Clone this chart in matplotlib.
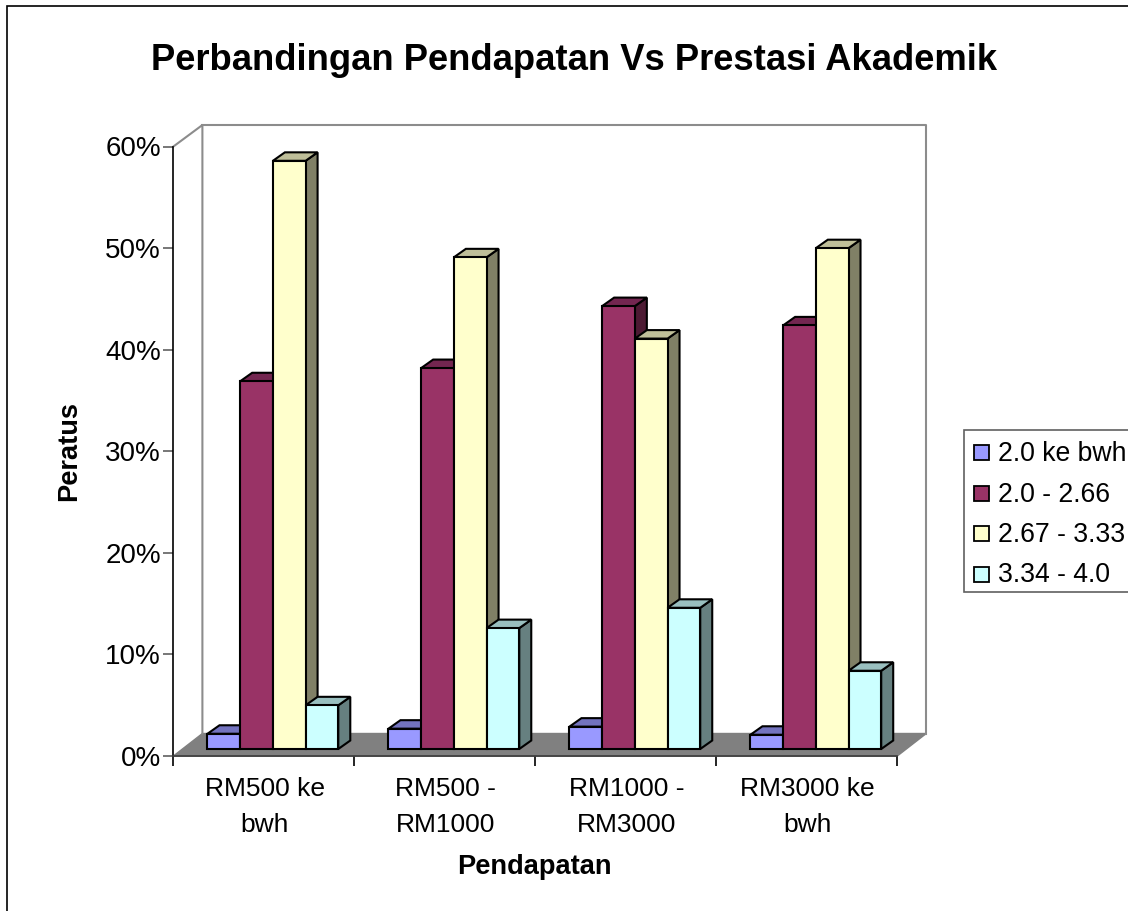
import matplotlib
matplotlib.use("Agg")
import matplotlib.pyplot as plt
from matplotlib.patches import Polygon, Rectangle

plt.rcParams['font.family'] = ['Liberation Sans', 'DejaVu Sans']

categories = ["RM500 ke\nbwh", "RM500 -\nRM1000", "RM1000 -\nRM3000", "RM3000 ke\nbwh"]
series_names = ["2.0 ke bwh", "2.0 - 2.66", "2.67 - 3.33", "3.34 - 4.0"]
below_2 = [1.5, 2.0, 2.2, 1.4]
from_2 = [36.2, 37.5, 43.6, 41.7]
from_267 = [57.9, 48.4, 40.4, 49.3]
from_334 = [4.3, 11.9, 13.9, 7.7]
series = [below_2, from_2, from_267, from_334]
yticks = [0, 10, 20, 30, 40, 50, 60]
front = ['#9999FF', '#993366', '#FFFFCC', '#CCFFFF']
top = ['#7373BF', '#732650', '#BFBF99', '#99BFBF']
side = ['#4D4D80', '#4D1A33', '#808066', '#668080']

W, H = 1128, 911
fig = plt.figure(figsize=(W / 100, H / 100), dpi=100, facecolor='white')
L, R, T, B = 173.4, 897.3, 146.5, 756.0
ax = fig.add_axes([L / W, 1 - B / H, (R - L) / W, (B - T) / H])
ax.set_xlim(0, 4)
ax.set_ylim(0, 60)
ax.patch.set_visible(False)
for s in ax.spines.values():
    s.set_visible(False)

px = 4 / (R - L)
py = 60 / (B - T)
wall_dx, wall_dy = 29 * px, 22.5 * py
bar_off_x, bar_off_y = 9 * px, 7 * py
bar_dx, bar_dy = 12 * px, 8.5 * py
bar_w = 32.7 * px


def poly(pts, fc, ec, lw, z):
    ax.add_patch(Polygon(pts, closed=True, fc=fc, ec=ec, lw=lw, zorder=z,
                         clip_on=False, joinstyle='miter'))


# floor and walls
poly([(0, 0), (4, 0), (4 + wall_dx, wall_dy), (wall_dx, wall_dy)], '#808080', '#808080', 1, 1)
gray = '#8C8C8C'
wt = 60 + 21.5 * py
ax.plot([0, wall_dx, wall_dx], [60, wt, wall_dy], color=gray, lw=1.5, clip_on=False, zorder=1.5)
ax.plot([wall_dx, 4 + wall_dx, 4 + wall_dx], [wt, wt, wall_dy], color=gray, lw=1.5, clip_on=False, zorder=1.5)

# bars
z = 3
for c in range(4):
    x0 = c + 0.5 + bar_off_x - 2 * bar_w
    for i, vals in enumerate(series):
        v = vals[c]
        xl = x0 + i * bar_w
        xr = xl + bar_w
        yb = bar_off_y
        yt = bar_off_y + v
        poly([(xr, yb), (xr + bar_dx, yb + bar_dy), (xr + bar_dx, yt + bar_dy), (xr, yt)],
             side[i], 'black', 1.5, z)
        poly([(xl, yt), (xr, yt), (xr + bar_dx, yt + bar_dy), (xl + bar_dx, yt + bar_dy)],
             top[i], 'black', 1.5, z)
        poly([(xl, yb), (xr, yb), (xr, yt), (xl, yt)], front[i], 'black', 1.5, z)
        z += 1

# axes lines
ax.plot([0, 0], [0, 60], color='black', lw=1.2, clip_on=False, zorder=2)
ax.plot([0, 4], [0, 0], color='#404040', lw=1.3, clip_on=False, zorder=2)
ax.set_yticks(yticks)
ax.set_yticklabels([f"{t}%" for t in yticks], fontsize=20, color='black')
ax.set_xticks([0, 1, 2, 3, 4])
ax.set_xticklabels([])
ax.tick_params(axis='y', length=7.5, width=1.2, color='#606060', pad=1.5)
ax.tick_params(axis='x', length=7, width=1.2, color='black')
for c, name in enumerate(categories):
    ax.annotate(name, xy=(c + 0.5 + 1 * px, 0), xycoords='data', xytext=(0, -15), textcoords='offset points',
                ha='center', va='top', fontsize=19, linespacing=1.63, annotation_clip=False)

# text
fig.text(574.5 / W, 1 - 61 / H, "Perbandingan Pendapatan Vs Prestasi Akademik",
         ha='center', va='center', fontsize=26.2, fontweight='bold')
fig.text(69 / W, 1 - 451 / H, "Peratus", ha='center', va='center', rotation=90,
         fontsize=19.6, fontweight='bold')
fig.text(534.5 / W, 1 - 867 / H, "Pendapatan", ha='center', va='center',
         fontsize=19.6, fontweight='bold')

# outer frame
fig.add_artist(Rectangle((7 / W, -1), 2, 1 + (1 - 6 / H), transform=fig.transFigure,
                         fc='none', ec='black', lw=1.2))

# legend
fig.add_artist(Rectangle((963.5 / W, 1 - 592 / H), 2, (592 - 430) / H, transform=fig.transFigure,
                         fc='white', ec='#606060', lw=1.2))
rows = [453, 494, 533, 574]
for name, fcol, y in zip(series_names, front, rows):
    fig.add_artist(Rectangle((974 / W, 1 - (y + 7.5) / H), 15 / W, 15 / H, transform=fig.transFigure,
                             fc=fcol, ec='black', lw=1.3))
    fig.text(998 / W, 1 - (y + 1.5) / H, name, ha='left', va='center', fontsize=19.2)

fig.savefig('out.png', dpi=100)
